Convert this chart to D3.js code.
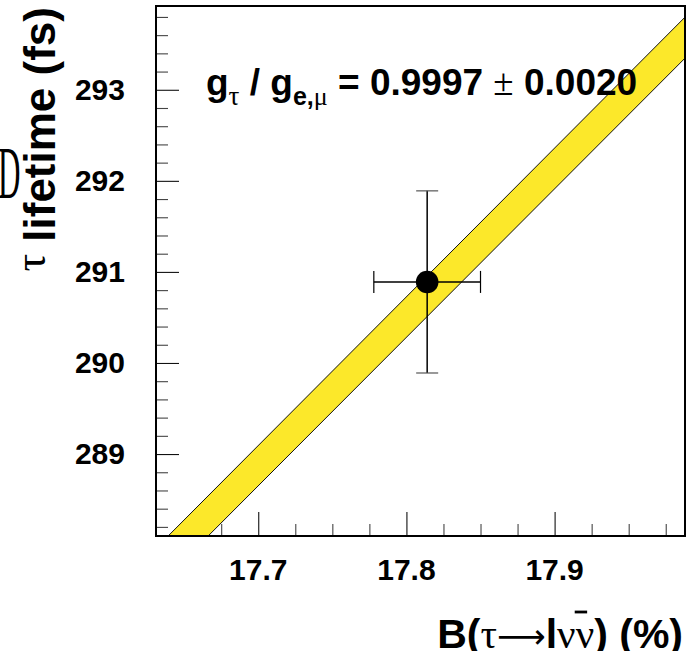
<!DOCTYPE html>
<html>
<head>
<meta charset="utf-8">
<script src="https://cdn.jsdelivr.net/npm/d3@7"></script>
<style>
  html, body { margin: 0; padding: 0; background: #fff; }
  svg { display: block; }
</style>
</head>
<body>
<script>
// ---- data ----
const xMajorTicks = [17.7, 17.8, 17.9];
const xTickLabels = ["17.7", "17.8", "17.9"];
const xMinorTicks = [17.65, 17.675, 17.725, 17.75, 17.775, 17.825, 17.85, 17.875, 17.925, 17.95, 17.975];
const yMajorTicks = [289, 290, 291, 292, 293];
const yTickLabels = ["289", "290", "291", "292", "293"];
const yMinorTicks = [288.2, 288.4, 288.6, 288.8, 289.2, 289.4, 289.6, 289.8, 290.2, 290.4, 290.6, 290.8,
                     291.2, 291.4, 291.6, 291.8, 292.2, 292.4, 292.6, 292.8, 293.2, 293.4, 293.6, 293.8];
const bandB = [17.63, 17.99];
const bandUpper = [287.95, 293.83];
const bandLower = [287.51, 293.38];
const pointB = [17.814];
const pointTau = [290.89];
const pointErrB = [0.036];
const pointErrTau = [1.0];

// ---- layout ----
const W = 695, H = 651;
const L = 156, R = 685, T = 6, B = 536;
const sans = "'Liberation Sans', Arial, Helvetica, sans-serif";
const serif = "'Liberation Serif', 'Times New Roman', serif";

const x = d3.scaleLinear().domain([17.631, 17.988]).range([L, R]);
const y = d3.scaleLinear().domain([288.1, 293.92]).range([B, T]);

const svg = d3.select("body").append("svg").attr("width", W).attr("height", H);

svg.append("defs").append("clipPath").attr("id", "plotclip")
  .append("rect").attr("x", L).attr("y", T).attr("width", R - L).attr("height", B - T);

// ticks via axes
const xAxisMajor = d3.axisTop(x).tickValues(xMajorTicks).tickSize(24).tickFormat("");
const xAxisMinor = d3.axisTop(x).tickValues(xMinorTicks).tickSize(12).tickFormat("");
const yAxisMajor = d3.axisRight(y).tickValues(yMajorTicks).tickSize(23).tickFormat("");
const yAxisMinor = d3.axisRight(y).tickValues(yMinorTicks).tickSize(12).tickFormat("");

function styleAxis(g, col) {
  g.select(".domain").remove();
  g.selectAll("line").attr("stroke", col).attr("stroke-width", 1.1);
}
svg.append("g").attr("transform", `translate(0,${B})`).call(xAxisMinor).call(g => styleAxis(g, "#444"));
svg.append("g").attr("transform", `translate(0,${B})`).call(xAxisMajor).call(g => styleAxis(g, "#111"));
svg.append("g").attr("transform", `translate(${L},0)`).call(yAxisMinor).call(g => styleAxis(g, "#444"));
svg.append("g").attr("transform", `translate(${L},0)`).call(yAxisMajor).call(g => styleAxis(g, "#111"));

// band
const bandPts = bandB.map((b, i) => [x(b), y(bandUpper[i])])
  .concat(bandB.slice().reverse().map((b, i) => [x(b), y(bandLower[bandB.length - 1 - i])]));
const gBand = svg.append("g").attr("clip-path", "url(#plotclip)");
gBand.append("path").attr("d", d3.line()(bandPts) + "Z")
  .attr("fill", "#fce82a").attr("stroke", "none");
const lineGen = d3.line().x(d => x(d[0])).y(d => y(d[1]));
gBand.append("path").attr("d", lineGen(bandB.map((b, i) => [b, bandUpper[i]])))
  .attr("fill", "none").attr("stroke", "#111").attr("stroke-width", 1);
gBand.append("path").attr("d", lineGen(bandB.map((b, i) => [b, bandLower[i]])))
  .attr("fill", "none").attr("stroke", "#111").attr("stroke-width", 1);

// frame
svg.append("rect").attr("x", L).attr("y", T).attr("width", R - L).attr("height", B - T)
  .attr("fill", "none").attr("stroke", "#000").attr("stroke-width", 2);

// tick labels
svg.append("g").selectAll("text").data(xMajorTicks).join("text")
  .attr("x", d => x(d)).attr("y", 580)
  .attr("text-anchor", "middle")
  .attr("font-family", sans).attr("font-weight", "bold").attr("font-size", 30)
  .text((d, i) => xTickLabels[i]);
svg.append("g").selectAll("text").data(yMajorTicks).join("text")
  .attr("x", 125).attr("y", d => y(d) + 10)
  .attr("text-anchor", "end")
  .attr("font-family", sans).attr("font-weight", "bold").attr("font-size", 30)
  .text((d, i) => yTickLabels[i]);

// data point with error bars
const pt = svg.append("g");
pointB.forEach((b, i) => {
  const cx = x(b), cy = y(pointTau[i]);
  const x0 = x(b - pointErrB[i]), x1 = x(b + pointErrB[i]);
  const y0 = y(pointTau[i] - pointErrTau[i]), y1 = y(pointTau[i] + pointErrTau[i]);
  pt.append("line").attr("x1", x0).attr("x2", x1).attr("y1", cy).attr("y2", cy).attr("stroke", "#000").attr("stroke-width", 1.5);
  pt.append("line").attr("x1", cx).attr("x2", cx).attr("y1", y0).attr("y2", y1).attr("stroke", "#000").attr("stroke-width", 1.5);
  pt.append("line").attr("x1", x0).attr("x2", x0).attr("y1", cy - 11).attr("y2", cy + 11).attr("stroke", "#000").attr("stroke-width", 1.2);
  pt.append("line").attr("x1", x1).attr("x2", x1).attr("y1", cy - 11).attr("y2", cy + 11).attr("stroke", "#000").attr("stroke-width", 1.2);
  pt.append("line").attr("x1", cx - 11).attr("x2", cx + 11).attr("y1", y0).attr("y2", y0).attr("stroke", "#555").attr("stroke-width", 1.2);
  pt.append("line").attr("x1", cx - 11).attr("x2", cx + 11).attr("y1", y1).attr("y2", y1).attr("stroke", "#555").attr("stroke-width", 1.2);
  pt.append("circle").attr("cx", cx).attr("cy", cy).attr("r", 11.3).attr("fill", "#000");
});

// annotation
const ann = svg.append("text").attr("x", 206).attr("y", 95)
  .attr("font-family", sans).attr("font-weight", "bold").attr("font-size", 37).attr("fill", "#000");
ann.append("tspan").text("g");
ann.append("tspan").attr("font-family", serif).attr("font-weight", "normal").attr("font-size", 27).attr("dy", 10).text("τ");
ann.append("tspan").attr("dy", -10).text(" / g");
ann.append("tspan").attr("font-size", 25).attr("dy", 10).text("e,");
ann.append("tspan").attr("font-family", serif).attr("font-weight", "normal").attr("font-size", 26).text("μ");
ann.append("tspan").attr("dy", -10).text(" = 0.9997 ");
ann.append("tspan").attr("font-family", serif).attr("font-weight", "normal").text("±");
ann.append("tspan").text(" 0.0020");

// x axis title
const xt = svg.append("text").attr("x", 683).attr("y", 648).attr("text-anchor", "end")
  .attr("font-family", sans).attr("font-weight", "bold").attr("font-size", 41).attr("fill", "#000");
xt.append("tspan").text("B(");
xt.append("tspan").attr("font-family", serif).attr("font-weight", "normal").text("τ");
xt.append("tspan").attr("font-family", "'DejaVu Sans', sans-serif").attr("font-weight", "normal").attr("font-size", 34).text("⟶");
xt.append("tspan").text("l");
xt.append("tspan").attr("font-family", serif).attr("font-weight", "normal").text("ν");
const nu2 = xt.append("tspan").attr("font-family", serif).attr("font-weight", "normal").text("ν");
xt.append("tspan").text(") (%)");
// bar over the antineutrino
(function () {
  const node = xt.node();
  const ext = node.getExtentOfChar(6);
  svg.append("line")
    .attr("x1", ext.x - ext.width * 0.05).attr("x2", ext.x + ext.width * 0.62)
    .attr("y1", 612).attr("y2", 612)
    .attr("stroke", "#000").attr("stroke-width", 2.8);
})();

// y axis title
const yt = svg.append("text").attr("transform", "translate(55,7) rotate(-90)").attr("text-anchor", "end")
  .attr("font-family", sans).attr("font-weight", "bold").attr("font-size", 44).attr("fill", "#000");
yt.append("tspan").attr("font-family", serif).attr("font-weight", "normal").attr("dy", -10).text("τ");
yt.append("tspan").attr("dy", 10).text(" lifetime (fs)");

// stray glyph at left edge
svg.append("text").attr("transform", "translate(-2,198) scale(0.42,1)")
  .attr("font-family", serif).attr("font-size", 74).attr("fill", "#000").text("D");
</script>
</body>
</html>
